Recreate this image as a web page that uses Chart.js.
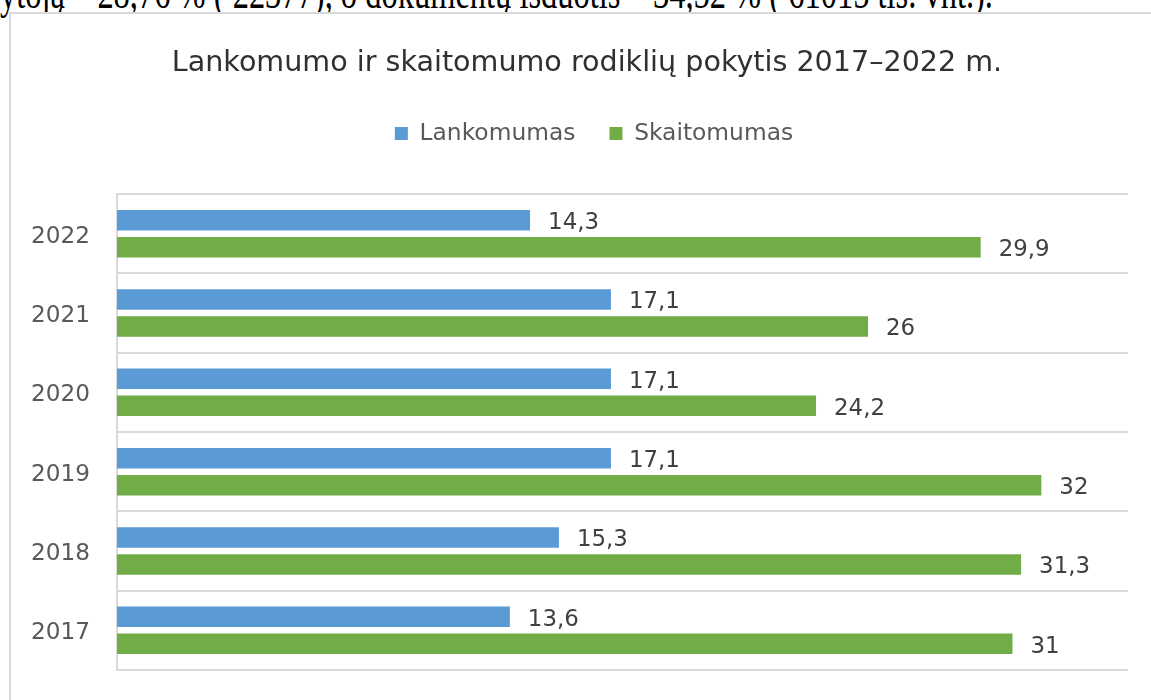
<!DOCTYPE html>
<html>
<head>
<meta charset="utf-8">
<script src="https://cdn.jsdelivr.net/npm/chart.js@4.4.1/dist/chart.umd.min.js"></script>
<style>
  html, body { margin: 0; padding: 0; background: #fff; }
  body { width: 1151px; height: 700px; overflow: hidden; position: relative; }
  #topText { position: absolute; left: 0; white-space: nowrap; font-family: 'Liberation Serif', 'Times New Roman', serif; color: #000; }
  #frame { position: absolute; left: 9px; top: 12px; width: 1200px; height: 800px; border: 2px solid #d9d9d9; background: #fff; }
  #wrap { position: absolute; left: 11px; top: 14px; width: 1152px; height: 686px; }
</style>
</head>
<body>
<div id="topText">ytoją – 28,76 % ( 22377), o dokumentų išduotis – 34,52 % ( 61015 tis. vnt.).</div>
<div id="frame"></div>
<div id="wrap"><canvas id="chart" width="1152" height="686"></canvas></div>
<script>
// ---- data ----
const chartTitle = 'Lankomumo ir skaitomumo rodiklių pokytis 2017–2022 m.';
const categories = ['2022', '2021', '2020', '2019', '2018', '2017'];
const seriesNames = ['Lankomumas', 'Skaitomumas'];
const lankomumas = [14.3, 17.1, 17.1, 17.1, 15.3, 13.6];
const skaitomumas = [29.9, 26, 24.2, 32, 31.3, 31];
const axisMin = 0;
const axisMax = 35;

// ---- font fitting helpers ----
const FONT = "'DejaVu Sans'";
const mctx = document.createElement('canvas').getContext('2d');
function fitSize(text, family, target) {
  mctx.font = '100px ' + family;
  return 100 * target / mctx.measureText(text).width;
}
const T = fitSize(chartTitle, FONT, 831);
const L = fitSize('Lankomumas', FONT, 156);
const TK = fitSize('2022', FONT, 59);
const D = fitSize('14,3', FONT, 51);

// top paragraph text (cut off by page edge), taller than wide like the reference
const topEl = document.getElementById('topText');
const TT = fitSize(topEl.textContent, "'Liberation Serif'", 993);
const baseOff = TT * (1 + 0.891 - 0.216) / 2;
topEl.style.fontSize = TT + 'px';
topEl.style.lineHeight = TT + 'px';
topEl.style.top = (8.5 - baseOff) + 'px';
topEl.style.transformOrigin = '0 ' + baseOff + 'px';
topEl.style.transform = 'scaleY(1.45)';

// ---- vertical layout (canvas coords) ----
const plotTop = 180;
const titleCenter = 50;
const legendCenter = 119.5;
const legPad = 34;
const titlePadTop = titleCenter - 0.6 * T;
const legendTop = legendCenter - legPad - L / 2;
const titlePadBottom = legendTop - titlePadTop - 1.2 * T;
const legendBottom = legendTop + L + legPad + 10;
const spacer = plotTop - legendBottom;

const valueLabels = {
  id: 'valueLabels',
  afterDatasetsDraw(chart) {
    const ctx = chart.ctx;
    ctx.save();
    ctx.font = D + 'px ' + FONT;
    ctx.fillStyle = '#404040';
    ctx.textAlign = 'left';
    ctx.textBaseline = 'middle';
    chart.data.datasets.forEach((ds, i) => {
      chart.getDatasetMeta(i).data.forEach((bar, j) => {
        ctx.fillText(String(ds.data[j]).replace('.', ','), bar.x + 18, bar.y + 3);
      });
    });
    ctx.restore();
  }
};

// shift title / legend horizontally to sit centred over the frame like the reference
const headerShift = {
  id: 'headerShift',
  afterLayout(chart) {
    if (chart.titleBlock) { chart.titleBlock.left += 17.5; chart.titleBlock.right += 17.5; }
    if (chart.legend) { chart.legend.left += 24.5; chart.legend.right += 24.5; }
  }
};

new Chart(document.getElementById('chart'), {
  type: 'bar',
  data: {
    labels: categories,
    datasets: [
      { label: seriesNames[0], data: lankomumas, backgroundColor: '#5B9BD5', borderWidth: 0 },
      { label: seriesNames[1], data: skaitomumas, backgroundColor: '#70AD47', borderWidth: 0 }
    ]
  },
  options: {
    indexAxis: 'y',
    responsive: false,
    animation: false,
    devicePixelRatio: 1,
    categoryPercentage: 0.681,
    barPercentage: 0.76,
    layout: { autoPadding: false, padding: { left: 0, right: 35, top: 0, bottom: 30 } },
    plugins: {
      title: {
        display: true,
        text: chartTitle,
        color: '#303030',
        font: { family: FONT, size: T, weight: 'normal', lineHeight: 1.2 },
        padding: { top: titlePadTop, bottom: titlePadBottom }
      },
      legend: {
        display: true,
        position: 'top',
        labels: {
          color: '#595959',
          font: { family: FONT, size: L },
          boxWidth: 13,
          boxHeight: 13,
          padding: legPad
        }
      },
      tooltip: { enabled: false }
    },
    scales: {
      x: {
        position: 'top',
        min: axisMin,
        max: axisMax,
        grid: { display: false },
        border: { display: false },
        ticks: { display: false },
        afterFit(s) { s.height = spacer; s.paddingLeft = 0; s.paddingRight = 0; }
      },
      y: {
        grid: { color: '#d9d9d9', lineWidth: 2, drawTicks: false },
        border: { display: true, color: '#d9d9d9', width: 2 },
        ticks: { color: '#595959', font: { family: FONT, size: TK }, padding: 27, labelOffset: 3 },
        afterFit(s) { s.width = 106; s.paddingTop = 0; s.paddingBottom = 0; }
      }
    }
  },
  plugins: [valueLabels, headerShift]
});
</script>
</body>
</html>
